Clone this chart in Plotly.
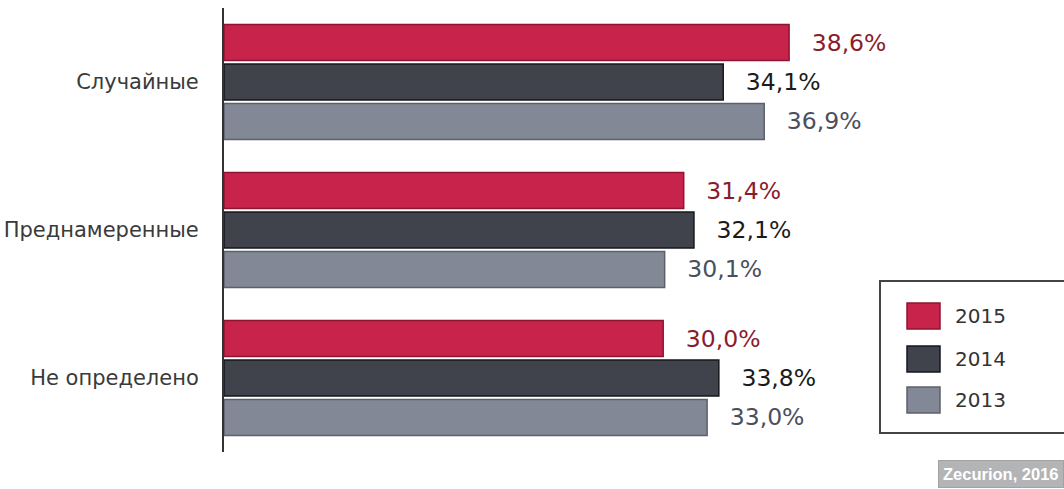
import plotly.graph_objects as go

categories = ["Случайные", "Преднамеренные", "Не определено"]
years = ["2015", "2014", "2013"]
values_2015 = [38.6, 31.4, 30.0]
values_2014 = [34.1, 32.1, 33.8]
values_2013 = [36.9, 30.1, 33.0]

series = [values_2015, values_2014, values_2013]
fills = ["#c8234a", "#40434c", "#838896"]
outlines = ["#8e1530", "#15171b", "#5c606b"]
text_colors = ["#8a1c2c", "#1b1b1b", "#4a4f5e"]

W, H = 1064, 489
L, R, T, B = 224, 0, 8, 37
pw, ph = W - L - R, H - T - B
FONT = "DejaVu Sans, Arial"


def px(x):
    return (x - L) / pw


def py(y):
    return (H - B - y) / ph


fig = go.Figure()
for name, vals, fc, lc, tc in zip(years, series, fills, outlines, text_colors):
    fig.add_trace(go.Bar(
        y=categories, x=vals, orientation="h", name=name,
        marker=dict(color=fc, line=dict(color=lc, width=1.5)),
        text=[f"{v:.1f}%".replace(".", ",") for v in vals],
        texttemplate="\u00a0\u00a0\u2009%{text}", textposition="outside",
        textfont=dict(family=FONT, size=23.5, color=tc),
        cliponaxis=False, showlegend=False,
    ))

shapes = [dict(type="rect", xref="paper", yref="paper",
               x0=px(880), x1=px(1070), y0=py(433), y1=py(281),
               line=dict(color="#444444", width=2), fillcolor="rgba(0,0,0,0)")]
annotations = []
sq_tops = [303, 346, 387]
for name, fc, lc, top in zip(years, fills, outlines, sq_tops):
    shapes.append(dict(type="rect", xref="paper", yref="paper",
                       x0=px(907), x1=px(940), y0=py(top + 26), y1=py(top),
                       fillcolor=fc, line=dict(color=lc, width=1.5)))
    annotations.append(dict(xref="paper", yref="paper", x=px(953), y=py(top + 13),
                            xanchor="left", yanchor="middle", text=name, showarrow=False,
                            font=dict(family=FONT, size=20, color="#333333")))

annotations.append(dict(xref="paper", yref="paper", x=px(1064), y=py(474),
                        xanchor="right", yanchor="middle", text="<b>Zecurion, 2016</b>",
                        showarrow=False, bgcolor="#b3b4b6", bordercolor="#a0a2a4",
                        borderwidth=1, borderpad=4,
                        font=dict(family="Liberation Sans, Arial", size=16.5, color="#ffffff")))

fig.update_layout(
    width=W, height=H, margin=dict(l=L, r=R, t=T, b=B, pad=0),
    paper_bgcolor="white", plot_bgcolor="white",
    barmode="group", bargap=0.2, bargroupgap=0.09,
    shapes=shapes, annotations=annotations,
    xaxis=dict(range=[0, pw / 14.64], showgrid=False, zeroline=False,
               showticklabels=False, showline=False, fixedrange=True),
    yaxis=dict(categoryorder="array", categoryarray=categories, range=[2.5, -0.5],
               showgrid=False, zeroline=False, showline=True, linecolor="#333333",
               linewidth=2, ticks="", ticklabelstandoff=19,
               tickfont=dict(family=FONT, size=21, color="#3a3a3a")),
)

fig.write_html("out.html")
